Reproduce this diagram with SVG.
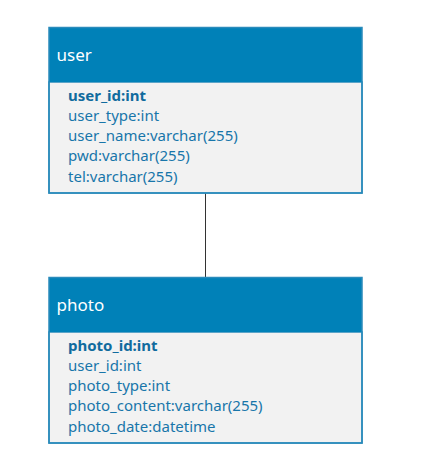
<svg xmlns="http://www.w3.org/2000/svg" width="430" height="468" viewBox="0 0 430 468">
<style>
.hdr{fill:#0081B8;}
.body{fill:#F2F2F2;stroke:#2A8BBB;stroke-width:1.5;}
.frame{fill:none;stroke:#2A8BBB;stroke-width:1.5;}
.title{font-family:"Noto Sans",sans-serif;font-size:17px;fill:#FFFFFF;}
.f{font-family:"Noto Sans",sans-serif;font-size:15px;fill:#1876AA;}
.pk{font-weight:bold;fill:#106B9E;}
.conn{stroke:#333333;stroke-width:1;fill:none;}
</style>
<rect width="430" height="468" fill="#FFFFFF"/>
<g id="connectors">
<line class="conn" x1="205.5" y1="193" x2="205.5" y2="277"/>
</g>
<g id="user">
<rect class="body" x="49" y="82" width="313" height="111"/>
<rect class="hdr" x="49" y="27.5" width="313" height="54.5"/>
<rect class="frame" x="49" y="27.5" width="313" height="165.5"/>
<text class="title" x="56.5" y="60.5">user</text>
<text class="f pk" x="68" y="100.5">user_id:int</text>
<text class="f" x="68" y="121">user_type:int</text>
<text class="f" x="68" y="141">user_name:varchar(255)</text>
<text class="f" x="68" y="161">pwd:varchar(255)</text>
<text class="f" x="68" y="181.5">tel:varchar(255)</text>
</g>
<g id="photo">
<rect class="body" x="49" y="332" width="313" height="111"/>
<rect class="hdr" x="49" y="277.5" width="313" height="54.5"/>
<rect class="frame" x="49" y="277.5" width="313" height="165.5"/>
<text class="title" x="56.5" y="310.5">photo</text>
<text class="f pk" x="68" y="350.5">photo_id:int</text>
<text class="f" x="68" y="371">user_id:int</text>
<text class="f" x="68" y="391">photo_type:int</text>
<text class="f" x="68" y="411">photo_content:varchar(255)</text>
<text class="f" x="68" y="431.5">photo_date:datetime</text>
</g>
</svg>
